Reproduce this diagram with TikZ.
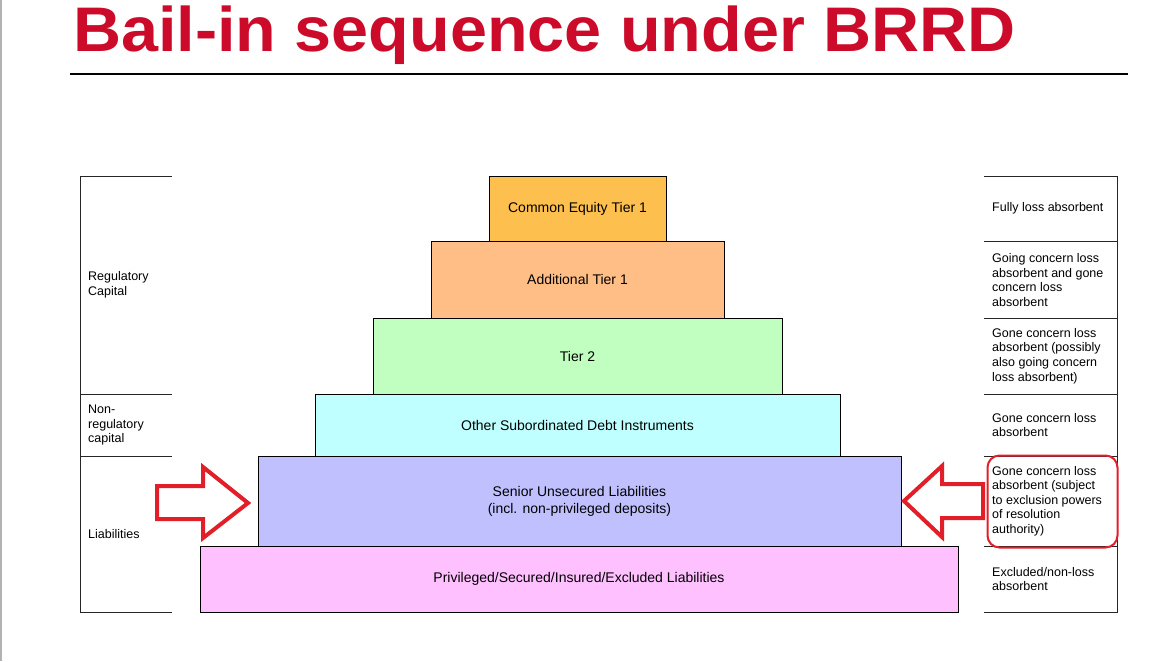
\documentclass[tikz,border=0pt]{standalone}
\usepackage{fontspec}
\setmainfont{Liberation Sans}
\definecolor{titlered}{RGB}{204,10,42}
\definecolor{arrowred}{RGB}{226,30,40}
\definecolor{cA}{RGB}{253,191,78}
\definecolor{cB}{RGB}{255,190,134}
\definecolor{cC}{RGB}{192,255,192}
\definecolor{cD}{RGB}{192,255,255}
\definecolor{cE}{RGB}{192,192,255}
\definecolor{cF}{RGB}{255,192,255}
\begin{document}
\begin{tikzpicture}[x=1pt,y=-1pt,
  font=\fontsize{12.5}{14.6}\selectfont,
  tier/.style={draw=black, line width=0.9pt, align=center, inner sep=0pt, outer sep=0pt, font=\fontsize{14}{17}\selectfont},
  lab/.style={anchor=west, align=left, inner sep=0pt},
  rulel/.style={line width=1pt, draw=black!85},
  blockarrow/.style={draw=arrowred, fill=white, line width=4pt, line join=miter}]
\useasboundingbox (0,0) rectangle (1164,661);
\draw[gray!60, line width=1.5pt] (0.75,0) -- (0.75,661);
% title
\node[anchor=base west, inner sep=0pt, text=titlered, font=\fontsize{63}{63}\selectfont\bfseries, xscale=1.056] (title) at (73,52) {Bail-in sequence under BRRD};
\draw[line width=2.6pt] (70,74) -- (1128,74);
% pyramid
\node[tier, fill=cA, minimum width=177, minimum height=65] (cet) at (577.5,208.5) {Common Equity Tier 1};
\node[tier, fill=cB, minimum width=293, minimum height=77] (at1) at (577.5,279.5) {Additional Tier 1};
\node[tier, fill=cC, minimum width=409, minimum height=76] (t2) at (577.5,356) {Tier 2};
\node[tier, fill=cD, minimum width=525, minimum height=62] (osd) at (577.5,425) {Other Subordinated Debt Instruments};
\node[tier, fill=cE, minimum width=643, minimum height=90] (sen) at (579.5,501) {Senior Unsecured Liabilities\\(incl. non-privileged deposits)};
\node[tier, fill=cF, minimum width=758, minimum height=66] (priv) at (579,579) {Privileged/Secured/Insured/Excluded Liabilities};
% left column
\draw[rulel] (172,176) -- (80,176) -- (80,612) -- (172,612);
\draw[rulel] (80,394) -- (172,394);
\draw[rulel] (80,456) -- (172,456);
\node[lab] (lreg) at (88,285) {Regulatory\\Capital};
\node[lab] (lnon) at (88,425) {Non-\\regulatory\\capital};
\node[lab] (lliab) at (88,534) {Liabilities};
% right column
\draw[rulel] (984,176) -- (1117,176) -- (1117,612) -- (984,612);
\foreach \yy in {241,318,394,456,546} \draw[rulel] (984,\yy) -- (1117,\yy);
\node[lab] (r1) at (992,208.5) {Fully loss absorbent};
\node[lab] (r2) at (992,280) {Going concern loss\\absorbent and gone\\concern loss\\absorbent};
\node[lab] (r3) at (992,356) {Gone concern loss\\absorbent (possibly\\also going concern\\loss absorbent)};
\node[lab] (r4) at (992,425) {Gone concern loss\\absorbent};
\node[lab] (r5) at (992,501) {Gone concern loss\\absorbent (subject\\to exclusion powers\\of resolution\\authority)};
\node[lab] (r6) at (992,579) {Excluded/non-loss\\absorbent};
% highlight box
\node[draw=arrowred, line width=2pt, rounded corners=12pt, minimum width=130, minimum height=92, inner sep=0pt] (hl) at (1052.5,501.5) {};
% block arrows
\draw[blockarrow] (157,486) -- (203,486) -- (203,467) -- (248,503) -- (203,538) -- (203,519) -- (157,519) -- cycle;
\draw[blockarrow] (983,484) -- (942,484) -- (942,466) -- (904,501) -- (942,537) -- (942,518) -- (983,518) -- cycle;
\end{tikzpicture}
\end{document}
